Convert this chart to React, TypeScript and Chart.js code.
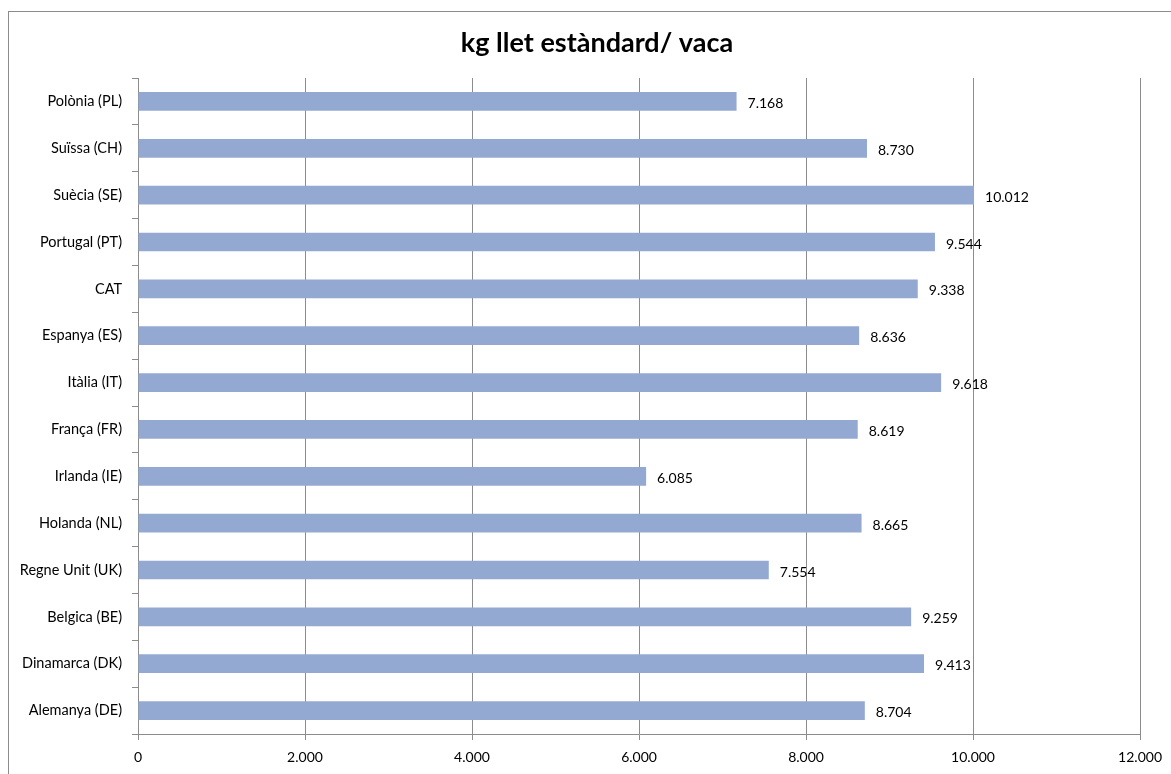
import React, { useEffect, useRef } from "react";
import { Chart, registerables } from "chart.js";

Chart.register(...registerables);

const title = "kg llet estàndard/ vaca";
const categories = [
  "Polònia (PL)",
  "Suïssa (CH)",
  "Suècia (SE)",
  "Portugal (PT)",
  "CAT",
  "Espanya (ES)",
  "Itàlia (IT)",
  "França (FR)",
  "Irlanda (IE)",
  "Holanda (NL)",
  "Regne Unit (UK)",
  "Belgica (BE)",
  "Dinamarca (DK)",
  "Alemanya (DE)",
];
const values = [7168, 8730, 10012, 9544, 9338, 8636, 9618, 8619, 6085, 8665, 7554, 9259, 9413, 8704];
const xMin = 0;
const xMax = 12000;
const xStep = 2000;

const FONT = "Lato, 'Open Sans', sans-serif";
const fmt = (v: number) => {
  const s = Math.round(v).toString();
  return s.replace(/\B(?=(\d{3})+(?!\d))/g, ".");
};

const framePlugin = {
  id: "frame",
  beforeDraw(chart: any) {
    const ctx = chart.ctx;
    ctx.save();
    ctx.fillStyle = "#ffffff";
    ctx.fillRect(0, 0, chart.width, chart.height);
    ctx.strokeStyle = "#8c8c8c";
    ctx.lineWidth = 1;
    ctx.strokeRect(8.5, 11.5, chart.width + 20, chart.height + 20);
    ctx.fillStyle = "#000";
    ctx.font = `bold 27px ${FONT}`;
    ctx.textAlign = "center";
    ctx.textBaseline = "middle";
    ctx.fillText(title, 597, 43);
    ctx.restore();
  },
  afterDatasetsDraw(chart: any) {
    const ctx = chart.ctx;
    const meta = chart.getDatasetMeta(0);
    ctx.save();
    ctx.fillStyle = "#000";
    ctx.font = `14px ${FONT}`;
    ctx.textAlign = "left";
    ctx.textBaseline = "middle";
    meta.data.forEach((bar: any, i: number) => {
      ctx.fillText(fmt(values[i]), bar.x + 11, bar.y + 2);
    });
    ctx.restore();
  },
};

export default function App() {
  const ref = useRef<HTMLCanvasElement>(null);
  useEffect(() => {
    if (!ref.current) return;
    const chart = new Chart(ref.current, {
      type: "bar",
      data: {
        labels: categories,
        datasets: [
          {
            data: values,
            backgroundColor: "#94a9d2",
            borderWidth: 0,
            categoryPercentage: 1,
            barPercentage: 0.4,
          },
        ],
      },
      options: {
        indexAxis: "y",
        animation: false,
        responsive: false,
        maintainAspectRatio: false,
        layout: { padding: { left: 8, right: 30, top: 78, bottom: 0 } },
        plugins: {
          legend: { display: false },
          title: { display: false },
          tooltip: { enabled: false },
        },
        scales: {
          x: {
            min: xMin,
            max: xMax,
            afterFit(scale: any) {
              scale.height = 40;
            },
            ticks: {
              stepSize: xStep,
              color: "#000",
              font: { family: FONT, size: 14 },
              padding: 9,
              maxRotation: 0,
              callback: (v: any) => fmt(Number(v)),
            },
            grid: {
              color: "#8c8c8c",
              lineWidth: 1,
              drawTicks: true,
              tickLength: 6,
            },
            border: { color: "#8c8c8c", width: 1 },
          },
          y: {
            afterFit(scale: any) {
              scale.width = 130;
            },
            ticks: {
              color: "#000",
              font: { family: FONT, size: 14.5 },
              padding: 10,
            },
            grid: {
              offset: true,
              drawOnChartArea: false,
              drawTicks: true,
              tickLength: 6,
              color: "#8c8c8c",
            },
            border: { color: "#8c8c8c", width: 1 },
          },
        },
      },
      plugins: [framePlugin],
    });
    return () => chart.destroy();
  }, []);
  return (
    <div style={{ position: "absolute", left: 0, top: 0, width: 1171, height: 774 }}>
      <canvas ref={ref} width={1171} height={774} style={{ width: 1171, height: 774 }} />
    </div>
  );
}
